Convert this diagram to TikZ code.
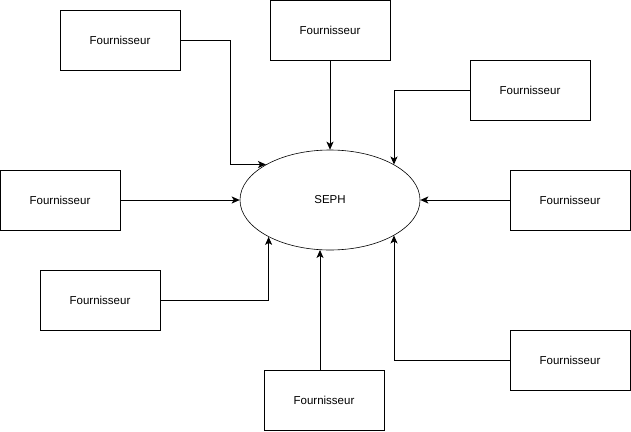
\documentclass[tikz,border=0pt]{standalone}
\usepackage{fontspec}
\setmainfont{Liberation Sans}
\usetikzlibrary{shapes.geometric,arrows.meta}
\begin{document}
\begin{tikzpicture}[x=1pt,y=-1pt,
  supbox/.style={draw=black,line width=0.9pt,minimum width=120pt,minimum height=60pt,inner sep=0pt,font=\fontsize{11.5}{13}\selectfont},
  arr/.style={draw=black,line width=0.9pt,-{Stealth[length=8pt,width=7pt,inset=2pt]}}]
\useasboundingbox (0,0) rectangle (631,431);
\node[draw=black,line width=0.6pt,ellipse,minimum width=180pt,minimum height=100pt,inner sep=0pt,font=\fontsize{11.5}{13}\selectfont] (seph) at (330,200) {SEPH};
\node[supbox] (f1) at (120,40) {Fournisseur};
\node[supbox] (f2) at (330,30) {Fournisseur};
\node[supbox] (f3) at (530,90) {Fournisseur};
\node[supbox] (f4) at (60,200) {Fournisseur};
\node[supbox] (f5) at (570,200) {Fournisseur};
\node[supbox] (f6) at (100,300) {Fournisseur};
\node[supbox] (f7) at (324,400) {Fournisseur};
\node[supbox] (f8) at (570,360) {Fournisseur};
\draw[arr] (f1.east) -- ++(50,0) |- (seph.151.4);
\draw[arr] (f2.south) -- (seph.north);
\draw[arr] (f3.west) -| (seph.29);
\draw[arr] (f4.east) -- (seph.west);
\draw[arr] (f5.west) -- (seph.east);
\draw[arr] (f6.east) -| (seph.211);
\draw[arr] ([xshift=-4pt]f7.north) -- ([xshift=-4pt]f7.north |- seph.258.6);
\draw[arr] (f8.west) -| (seph.331);
\end{tikzpicture}
\end{document}
